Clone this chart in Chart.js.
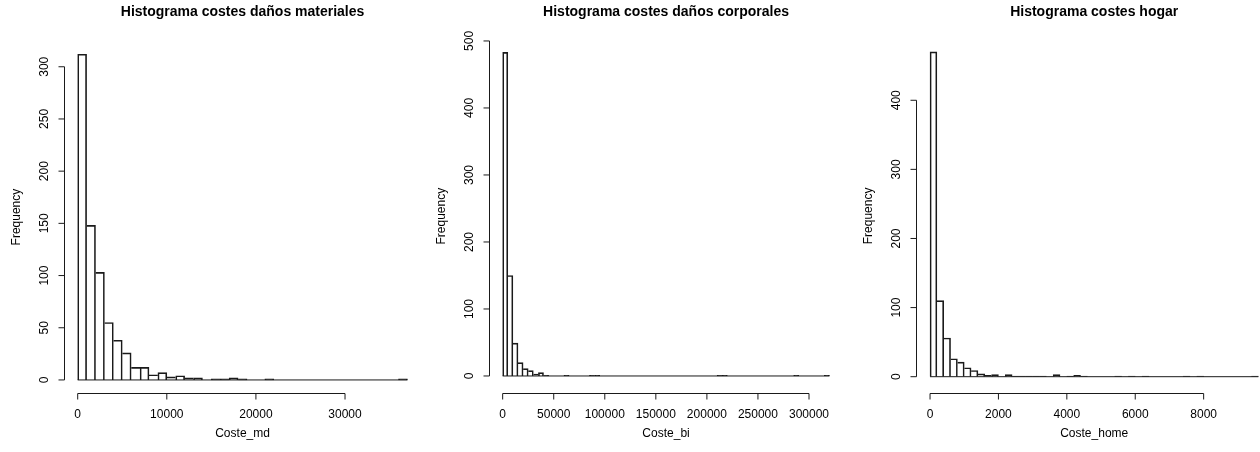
<!DOCTYPE html>
<html lang="es">
<head>
<meta charset="utf-8">
<title>Histogramas de costes</title>
<script src="https://cdn.jsdelivr.net/npm/chart.js@4.4.1/dist/chart.umd.min.js"></script>
<style>
  html, body { margin: 0; padding: 0; background: #ffffff; overflow: hidden; width: 1260px; height: 452px; }
  canvas { position: absolute; top: 0; }
</style>
</head>
<body>
<canvas id="histMd" width="430" height="452" style="left:0px"></canvas>
<canvas id="histBi" width="420" height="452" style="left:430px"></canvas>
<canvas id="histHome" width="430" height="452" style="left:850px"></canvas>
<script>
// ---- Coste_md : bins of 1000 starting at 0 ----
const mdBinWidth = 1000;
const mdCounts = [312, 148, 103, 55, 38, 26, 12, 12, 5, 7, 3, 4, 2, 2, 0, 1, 1, 2, 1, 0,
                  0, 1, 0, 0, 0, 0, 0, 0, 0, 0, 0, 0, 0, 0, 0, 0, 1];
const mdXTicks = [0, 10000, 20000, 30000];
const mdYTicks = [0, 50, 100, 150, 200, 250, 300];

// ---- Coste_bi : bins of 5000 starting at 0 ----
const biBinWidth = 5000;
const biCounts = [483, 150, 49, 20, 11, 8, 3, 5, 1, 0, 0, 0, 1, 0, 0, 0, 0, 1, 1, 0,
                  0, 0, 0, 0, 0, 0, 0, 0, 0, 0, 0, 0, 0, 0, 0, 0, 0, 0, 0, 0,
                  0, 0, 1, 1, 0, 0, 0, 0, 0, 0, 0, 0, 0, 0, 0, 0, 0, 1, 0, 0,
                  0, 0, 0, 1];
const biXTicks = [0, 50000, 100000, 150000, 200000, 250000, 300000];
const biYTicks = [0, 100, 200, 300, 400, 500];

// ---- Coste_home : bins of 200 starting at 0 ----
const homeBinWidth = 200;
const homeCounts = [470, 110, 56, 26, 21, 13, 9, 4, 2, 3, 0, 3, 1, 1, 1, 1, 1, 0, 3, 0,
                    1, 2, 1, 0, 0, 0, 0, 1, 0, 1, 0, 1, 0, 0, 0, 0, 0, 1, 0, 1,
                    0, 0, 0, 0, 0, 0, 0, 1];
const homeXTicks = [0, 2000, 4000, 6000, 8000];
const homeYTicks = [0, 100, 200, 300, 400];

const FONT = '"Liberation Sans", Arial, Helvetica, sans-serif';
const INK = '#1a1a1a';

// Base-R style axes, title and labels, placed with the chart's own scales
const rStylePlugin = {
  id: 'rStyle',
  afterDraw(chart, args, opts) {
    const { ctx, chartArea: a, scales: { x, y } } = chart;
    ctx.save();
    ctx.strokeStyle = INK;
    ctx.fillStyle = '#000';
    ctx.lineWidth = 1;

    // main title
    ctx.font = 'bold 14px ' + FONT;
    ctx.textAlign = 'center';
    ctx.textBaseline = 'middle';
    ctx.fillText(opts.title, (a.left + a.right) / 2, 12);

    // x axis (spans first to last tick)
    const xs = opts.xTicks.map(v => x.getPixelForValue(v));
    const yb = Math.round(a.bottom) + 0.5;
    ctx.beginPath();
    ctx.moveTo(xs[0], yb);
    ctx.lineTo(xs[xs.length - 1], yb);
    xs.forEach(px => { ctx.moveTo(px, yb); ctx.lineTo(px, yb + 6); });
    ctx.stroke();
    ctx.font = '12px ' + FONT;
    opts.xTicks.forEach((v, i) => ctx.fillText(String(v), xs[i], yb + 21));
    ctx.fillText(opts.xTitle, (a.left + a.right) / 2, yb + 40);

    // y axis
    const ys = opts.yTicks.map(v => y.getPixelForValue(v));
    const xl = Math.round(a.left) - 0.5;
    ctx.beginPath();
    ctx.moveTo(xl, ys[0]);
    ctx.lineTo(xl, ys[ys.length - 1]);
    ys.forEach(py => { ctx.moveTo(xl, py); ctx.lineTo(xl - 6, py); });
    ctx.stroke();
    opts.yTicks.forEach((v, i) => {
      ctx.save();
      ctx.translate(xl - 20, ys[i]);
      ctx.rotate(-Math.PI / 2);
      ctx.fillText(String(v), 0, 0);
      ctx.restore();
    });
    ctx.save();
    ctx.translate(xl - 48, (a.top + a.bottom) / 2);
    ctx.rotate(-Math.PI / 2);
    ctx.fillText(opts.yTitle, 0, 0);
    ctx.restore();

    ctx.restore();
  }
};

function histogram(canvasId, counts, binWidth, xTicks, yTicks, yMin, padding, title, xTitle) {
  const span = counts.length * binWidth;
  const bars = counts.map((c, i) => ({ x: (i + 0.5) * binWidth, y: c }));
  const maxCount = Math.max(...counts);

  // each shared edge is outlined once, by the taller of the two bars
  const edgeWidths = (ctx) => {
    const i = ctx.dataIndex;
    const c = counts[i];
    const prev = i > 0 ? counts[i - 1] : 0;
    const next = i < counts.length - 1 ? counts[i + 1] : 0;
    return {
      top: c > 0 ? 1 : 0,
      left: c > 0 && c >= prev ? 1 : 0,
      right: c > 0 && c > next ? 1 : 0,
      bottom: 0
    };
  };

  return new Chart(document.getElementById(canvasId), {
    type: 'bar',
    data: {
      datasets: [
        {
          type: 'bar',
          data: bars,
          backgroundColor: 'rgba(255,255,255,0)',
          borderColor: INK,
          borderWidth: edgeWidths,
          borderSkipped: false,
          barPercentage: 1,
          categoryPercentage: 1,
          order: 2
        },
        {
          // bottom edges of all bins
          type: 'line',
          data: [{ x: 0, y: 0 }, { x: span, y: 0 }],
          borderColor: INK,
          borderWidth: 1,
          pointRadius: 0,
          fill: false,
          order: 1
        }
      ]
    },
    options: {
      responsive: false,
      animation: false,
      devicePixelRatio: 1,
      events: [],
      layout: { padding },
      scales: {
        x: { type: 'linear', offset: false, min: -0.04 * span, max: 1.04 * span, display: false },
        y: { type: 'linear', min: yMin, max: 1.04 * maxCount, display: false }
      },
      plugins: {
        legend: { display: false },
        tooltip: { enabled: false },
        rStyle: { title, xTitle, yTitle: 'Frequency', xTicks, yTicks }
      }
    },
    plugins: [rStylePlugin]
  });
}

histogram('histMd', mdCounts, mdBinWidth, mdXTicks, mdYTicks, -12.5,
  { left: 64.5, right: 9.4, top: 41.2, bottom: 59 },
  'Histograma costes daños materiales', 'Coste_md');

histogram('histBi', biCounts, biBinWidth, biXTicks, biYTicks, -25.4,
  { left: 59.6, right: 7.5, top: 39.4, bottom: 59 },
  'Histograma costes daños corporales', 'Coste_bi');

histogram('histHome', homeCounts, homeBinWidth, homeXTicks, homeYTicks, -23.6,
  { left: 66.9, right: 8.5, top: 38.9, bottom: 59 },
  'Histograma costes hogar', 'Coste_home');
</script>
</body>
</html>
